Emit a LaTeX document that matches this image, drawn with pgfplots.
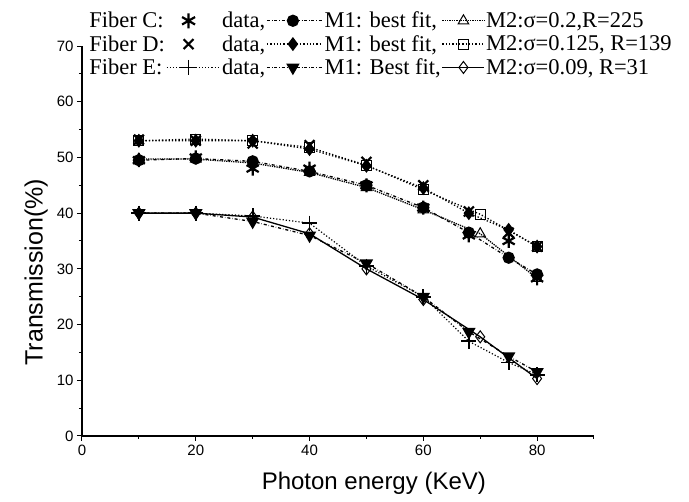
\documentclass[border=0pt]{standalone}
\usepackage{fontspec}
\setmainfont{Liberation Serif}
\newfontfamily\arial{Liberation Sans}
\usepackage{pgfplots}
\pgfplotsset{compat=1.18}
\begin{document}
\begin{tikzpicture}[x=1pt,y=1pt]
\useasboundingbox (-82,-66) rectangle (607,436);
\begin{axis}[at={(0,0)}, anchor=south west, scale only axis, width=512pt, height=390pt,
 xmin=0,xmax=90,ymin=0,ymax=70,
 axis lines=left, axis line style={-, line width=1.2pt},
 xtick={0,20,40,60,80}, minor xtick={10,30,50,70,90},
 ytick={0,10,...,70}, minor ytick={5,15,...,65},
 tick align=outside, major tick length=5pt, minor tick length=3pt,
 every tick/.style={line width=1pt, black},
 tick label style={font=\arial\fontsize{15}{17}\selectfont},
 /pgf/number format/assume math mode=true,
 xlabel={Photon energy (KeV)}, ylabel={Transmission(\%)},
 xlabel style={font=\arial\fontsize{24}{28}\selectfont, at={(ticklabel cs:0.57)}, yshift=-10pt},
 ylabel style={font=\arial\fontsize{25}{29}\selectfont, at={(ticklabel cs:0.42)}, yshift=2pt},
 legend columns=4,
 legend cell align=left,
 legend style={at={(0.012,1.09)}, anchor=north west, draw=none, fill=none,
   font=\fontsize{22.5}{25}\selectfont, column sep=0pt, row sep=4pt, inner sep=0pt,
   nodes={inner sep=1pt}},
 legend image code/.code={\draw[mark repeat=2,mark phase=2] plot coordinates {(0pt,0pt) (21pt,0pt) (42pt,0pt)};},
]
% legend entries
\addlegendimage{empty legend}\addlegendentry{Fiber C:}
\addlegendimage{only marks, mark=asterisk, mark size=7.5pt, line width=2.2pt,
  legend image code/.code={\path[draw=none] (0pt,0pt) rectangle (54pt,0pt); \draw[only marks] plot coordinates {(22pt,0pt)};}}\addlegendentry{data,}
\addlegendimage{dash dot, line width=1.3pt, mark=*, mark size=5.5pt, mark options={solid},
  legend image code/.code={\draw[mark repeat=2,mark phase=2] plot coordinates {(0pt,0pt) (26pt,0pt) (56pt,0pt)};}}\addlegendentry{M1: best fit,}
\addlegendimage{densely dotted, line width=1.3pt, mark=triangle, mark size=6pt, mark options={solid, line width=1pt}}\addlegendentry{M2:σ=0.2,R=225}
\addlegendimage{empty legend}\addlegendentry{Fiber D:}
\addlegendimage{only marks, mark=x, mark size=7pt, line width=2.2pt,
  legend image code/.code={\path[draw=none] (0pt,0pt) rectangle (54pt,0pt); \draw[only marks] plot coordinates {(22pt,0pt)};}}\addlegendentry{data,}
\addlegendimage{dotted, line width=1.3pt, mark=diamond*, mark size=6pt, mark options={solid},
  legend image code/.code={\draw[mark repeat=2,mark phase=2] plot coordinates {(0pt,0pt) (26pt,0pt) (56pt,0pt)};}}\addlegendentry{M1: best fit,}
\addlegendimage{dotted, line width=1.3pt, mark=square, mark size=5pt, mark options={solid, line width=1pt}}\addlegendentry{M2:σ=0.125, R=139}
\addlegendimage{empty legend}\addlegendentry{Fiber E:}
\addlegendimage{dotted, line width=1.2pt, mark=+, mark size=7.5pt, mark options={solid, line width=1.8pt},
  legend image code/.code={\draw[mark repeat=2,mark phase=2] plot coordinates {(0pt,0pt) (22pt,0pt) (54pt,0pt)};}}\addlegendentry{data,}
\addlegendimage{dash dot, line width=1.3pt, mark=triangle*, mark size=6.5pt, mark options={solid, rotate=180},
  legend image code/.code={\draw[mark repeat=2,mark phase=2] plot coordinates {(0pt,0pt) (26pt,0pt) (56pt,0pt)};}}\addlegendentry{M1: Best fit,}
\addlegendimage{solid, line width=1.3pt, mark=diamond, mark size=6pt, mark options={solid, line width=1pt}}\addlegendentry{M2:σ=0.09, R=31}
% Fiber C
\addplot[forget plot, dash dot, line width=1.3pt, mark=*, mark size=5.5pt, mark options={solid}] coordinates {(10,49.5)(20,49.8)(30,49.3)(40,47.5)(50,45)(60,41)(68,36.5)(75,32)(80,29)};
\addplot[forget plot, densely dotted, line width=1.3pt, mark=triangle, mark size=6pt, mark options={solid, line width=1pt}] coordinates {(10,49.7)(20,49.7)(30,49)(40,47.3)(50,44.6)(60,40.6)(70,36.3)(80,28.3)};
\addplot[forget plot, only marks, mark=asterisk, mark size=7pt, line width=2.2pt] coordinates {(10,49.5)(20,50)(30,48)(40,48)(50,45)(60,41)(68,36)(75,35)(80,28.3)};
% Fiber D
\addplot[forget plot, dotted, line width=1.3pt, mark=diamond*, mark size=6pt, mark options={solid}] coordinates {(10,53)(20,53)(30,53)(40,51.5)(50,48.5)(60,44.5)(68,40)(75,37)(80,34)};
\addplot[forget plot, dotted, line width=1.3pt, mark=square, mark size=5pt, mark options={solid, line width=1pt}] coordinates {(10,53)(20,53.3)(30,53)(40,51.8)(50,48.6)(60,44.2)(70,39.8)(80,34)};
\addplot[forget plot, only marks, mark=x, mark size=7pt, line width=2.2pt] coordinates {(10,53.2)(20,53)(30,52.5)(40,52.2)(50,49.2)(60,45)(68,40.3)(75,36.5)(80,34)};
% Fiber E
\addplot[forget plot, dotted, line width=1.2pt, mark=+, mark size=7.5pt, mark options={solid, line width=1.8pt}] coordinates {(10,40)(20,40)(30,39.5)(40,38.2)(50,30.5)(60,25)(68,17)(75,13.2)(80,11)};
\addplot[forget plot, dash dot, line width=1.3pt, mark=triangle*, mark size=6.5pt, mark options={solid, rotate=180}] coordinates {(10,40)(20,40)(30,38.5)(40,36)(50,31)(60,25)(68,18.7)(75,14.3)(80,11.5)};
\addplot[forget plot, solid, line width=1.3pt, mark=diamond, mark size=6pt, mark options={solid, line width=1pt}] coordinates {(10,40)(20,40)(30,39.3)(40,36.3)(50,30)(60,24.5)(70,17.8)(80,10.3)};
\end{axis}
\end{tikzpicture}
\end{document}
